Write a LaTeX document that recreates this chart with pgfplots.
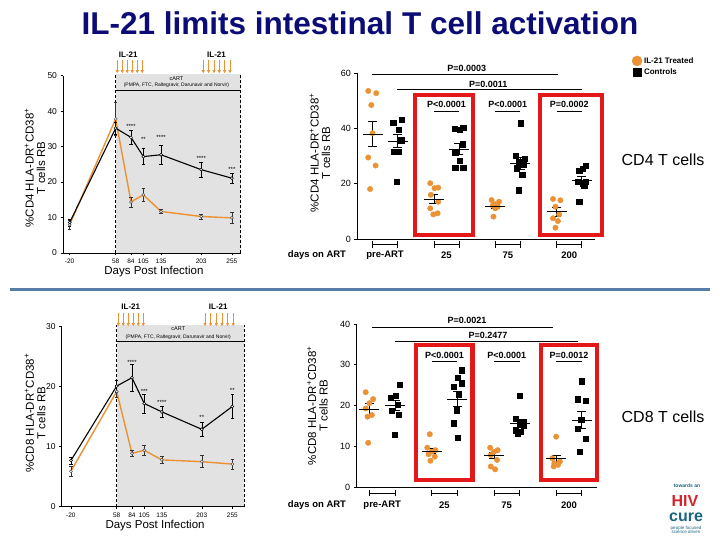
\documentclass[border=0pt]{standalone}
\usepackage{pgfplots}
\pgfplotsset{compat=1.18}
\usepackage{fontspec}
\setmainfont{Liberation Sans}
\usetikzlibrary{arrows.meta}
\newcommand{\fs}[1]{\fontsize{#1}{#1}\selectfont}
\definecolor{ilorange}{RGB}{234,146,52}
\definecolor{boxred}{RGB}{228,24,24}
\definecolor{navy}{RGB}{12,12,118}
\definecolor{steel}{RGB}{86,124,168}
\definecolor{cartgrey}{RGB}{226,226,226}
\definecolor{hivred}{RGB}{214,36,44}
\definecolor{hivteal}{RGB}{26,100,130}
\pgfplotsset{
 lineax/.style={scale only axis, axis lines=left, axis line style={-, line width=0.6pt},
   tick align=outside, major tick length=2.5pt, tick style={black, line width=0.5pt},
   /pgf/number format/assume math mode=true, clip=false, axis on top, ymin=0,
   xtick={-20,58,84,105,135,203,255},
   x tick label style={font=\fs{6.5}},
   y tick label style={font=\fs{8.5}},
   xlabel style={font=\fs{11.5}}, ylabel style={font=\fs{11.5}, align=center}},
 scatax/.style={scale only axis, axis lines=left, axis line style={-, line width=0.9pt},
   tick align=outside, major tick length=3pt, tick style={black, line width=0.8pt},
   xtick=\empty, /pgf/number format/assume math mode=true, clip=false, ymin=0,
   y tick label style={font=\fs{9}}, ylabel style={font=\fs{11.5}, align=center}},
 orangeline/.style={ilorange, line width=1.4pt, mark=*, mark size=1.5pt,
   mark options={fill=white, draw=black!70, line width=0.5pt},
   error bars/.cd, y dir=both, y explicit, error bar style={black!80, line width=0.5pt},
   error mark options={rotate=90, mark size=1.8pt, black!80, line width=0.5pt}},
 blackline/.style={black, line width=1.1pt, mark=*, mark size=1.5pt,
   mark options={fill=white, draw=black, line width=0.5pt},
   error bars/.cd, y dir=both, y explicit, error bar style={black, line width=0.5pt},
   error mark options={rotate=90, mark size=1.8pt, black, line width=0.5pt}},
 odot/.style={only marks, mark=*, mark size=2.7pt, ilorange, forget plot},
 bdot/.style={only marks, mark=square*, mark size=2.6pt, black, forget plot},
 meanbar/.style={only marks, mark=-, mark size=10pt, black, mark options={line width=0.8pt}, forget plot,
   error bars/.cd, y dir=both, y explicit, error bar style={black, line width=0.8pt},
   error mark options={rotate=90, mark size=4.5pt, black, line width=0.8pt}},
}
\begin{document}
\begin{tikzpicture}[x=1pt,y=1pt]
\fill[white] (0,0) rectangle (720,540);
\useasboundingbox (0,0) rectangle (720,540);
\node[font=\bfseries\fs{31.5}, text=navy] at (360,517) {IL-21 limits intestinal T cell activation};
\draw[steel, line width=3pt] (10,250) -- (710,250);
\node[font=\fs{16}] at (663,380) {CD4 T cells};
\node[font=\fs{16}] at (663,123) {CD8 T cells};
\node[font=\bfseries\fs{9.5}] at (317,285) {days on ART};
\node[font=\bfseries\fs{9.5}] at (317,35) {days on ART};
% logo
\node[text=hivteal, font=\bfseries\fs{5}, inner sep=0pt] at (687,54) {towards an};
\node[text=hivred, font=\bfseries\fs{16}, inner sep=0pt] at (685,39) {HIV};
\node[text=hivteal, font=\bfseries\fs{16}, inner sep=0pt] at (686,23) {cure};
\node[text=hivteal, font=\fs{4.5}, align=center, inner sep=0pt] at (686,10) {people focused\\[-0.5pt]science driven};

%================ Panel 1 : CD4 line
\begin{axis}[lineax, at={(63pt,287pt)}, anchor=south west, width=177.7pt, height=177.3pt,
  xmin=-31.3, xmax=270, ymax=50, ytick={0,10,20,30,40,50},
  xlabel={Days Post Infection}, xlabel style={at={(axis description cs:0.512,-0.107)}, anchor=center},
  ylabel={\%CD4 HLA-DR\textsuperscript{+}CD38\textsuperscript{+}\\T cells RB},
  ylabel style={at={(axis description cs:-0.158,0.48)}, anchor=center}]
\fill[cartgrey] (axis cs:58,0) rectangle (axis cs:270,50.6);
\draw[densely dashed, line width=0.5pt] (axis cs:58,0) -- (axis cs:58,50.6);
\draw[densely dashed, line width=0.5pt] (axis cs:270,0) -- (axis cs:270,50.6);
\draw[line width=1pt] (axis cs:58,45.7) -- (axis cs:270,45.7);
\node[font=\fs{5.5}] at (axis cs:161,49.2) {cART};
\node[font=\fs{5}] at (axis cs:161,47.4) {(PMPA, FTC, Raltegravir, Darunavir and Norvir)};
\pgfplotsinvokeforeach{60.7,69.2,77.6,86.1,94.5,103,206.5,215.5,224.6,233.6,242.7,251.7}{
  \draw[ilorange, line width=0.6pt, -{Triangle[length=3pt,width=3pt]}] (axis cs:#1,54.4) -- (axis cs:#1,50.7);}
\node[font=\bfseries\fs{8}] at (axis cs:79.4,55.9) {IL-21};
\node[font=\bfseries\fs{8}] at (axis cs:229,55.9) {IL-21};
\addplot[orangeline] coordinates {(-20,8)+-(0,1.2) (58,37.8)+-(0,4.6) (84,14.4)+-(0,1.4) (105,16.4)+-(0,1.8) (135,11.7)+-(0,0.6) (203,10.3)+-(0,0.7) (255,9.9)+-(0,1.6)};
\addplot[blackline] coordinates {(-20,8.6)+-(0,1) (58,35.2)+-(0,1.8) (84,32.6)+-(0,2) (105,27.2)+-(0,2.3) (135,27.7)+-(0,2.6) (203,23.5)+-(0,2) (255,21.1)+-(0,1.4)};
\node[font=\fs{6}] at (axis cs:84,35.6) {****};
\node[font=\fs{6}] at (axis cs:105,32.1) {**};
\node[font=\fs{6}] at (axis cs:135,32.6) {****};
\node[font=\fs{6}] at (axis cs:203,26.7) {****};
\node[font=\fs{6}] at (axis cs:255,23.7) {***};
\end{axis}

%================ Panel 3 : CD8 line
\begin{axis}[lineax, at={(61.7pt,33.3pt)}, anchor=south west, width=182.3pt, height=180pt,
  xmin=-35.7, xmax=274.9, ymax=30, ytick={0,10,20,30},
  xlabel={Days Post Infection}, xlabel style={at={(axis description cs:0.512,-0.107)}, anchor=center},
  ylabel={\%CD8 HLA-DR\textsuperscript{+}CD38\textsuperscript{+}\\T cells RB},
  ylabel style={at={(axis description cs:-0.146,0.52)}, anchor=center}]
\fill[cartgrey] (axis cs:58,0) rectangle (axis cs:274.9,30.2);
\draw[densely dashed, line width=0.5pt] (axis cs:58,0) -- (axis cs:58,30.2);
\draw[densely dashed, line width=0.5pt] (axis cs:274.9,0) -- (axis cs:274.9,30.2);
\draw[line width=1pt] (axis cs:58,27.6) -- (axis cs:274.9,27.6);
\node[font=\fs{5.5}] at (axis cs:163,29.6) {cART};
\node[font=\fs{5}] at (axis cs:163,28.3) {(PMPA, FTC, Raltegravir, Darunavir and Norvir)};
\pgfplotsinvokeforeach{60.7,69.2,77.7,86.3,94.8,103.3,208.4,218,227.7,237.3,247,256.6}{
  \draw[ilorange, line width=0.6pt, -{Triangle[length=3pt,width=3pt]}] (axis cs:#1,32.2) -- (axis cs:#1,30.1);}
\node[font=\bfseries\fs{8}] at (axis cs:82,33.4) {IL-21};
\node[font=\bfseries\fs{8}] at (axis cs:231,33.4) {IL-21};
\addplot[orangeline] coordinates {(-20,5.9)+-(0,0.8) (58,19.2)+-(0,1) (84,8.9)+-(0,0.5) (105,9.4)+-(0,0.9) (135,7.8)+-(0,0.6) (203,7.5)+-(0,1) (255,7.1)+-(0,0.8)};
\addplot[blackline] coordinates {(-20,7.7)+-(0,0.6) (58,20.1)+-(0,1) (84,21.5)+-(0,2.2) (105,17.2)+-(0,1.6) (135,15.8)+-(0,0.9) (203,12.9)+-(0,1.2) (255,16.7)+-(0,2)};
\node[font=\fs{6}] at (axis cs:84,24) {****};
\node[font=\fs{6}] at (axis cs:105,19.2) {***};
\node[font=\fs{6}] at (axis cs:135,17.4) {****};
\node[font=\fs{6}] at (axis cs:203,14.9) {**};
\node[font=\fs{6}] at (axis cs:255,19.3) {**};
\end{axis}

%================ Panel 2 : CD4 scatter
\begin{axis}[scatax, at={(357.3pt,301pt)}, anchor=south west, width=237.7pt, height=165.7pt,
  xmin=-0.452, xmax=3.42, ymax=60, ytick={0,20,40,60},
  ylabel={\%CD4 HLA-DR\textsuperscript{+}CD38\textsuperscript{+}\\T cells RB},
  ylabel style={at={(axis description cs:-0.157,0.52)}, anchor=center},
  legend style={at={(axis description cs:1.155,1.11)}, anchor=north west, draw=none, fill=none,
    font=\bfseries\fs{8}, row sep=0pt, inner sep=0pt}, legend cell align=left]
\addlegendimage{only marks, mark=*, mark size=5pt, ilorange}
\addlegendentry{IL-21 Treated}
\addlegendimage{only marks, mark=square*, mark size=4.3pt, black}
\addlegendentry{Controls}
\addplot[odot] coordinates {(-0.274,53.6) (-0.144,52.8) (-0.224,48.5) (-0.204,38.3) (-0.274,29.5) (-0.154,26.6) (-0.244,18.1)};
\addplot[bdot] coordinates {(0.134,42.0) (0.274,43.3) (0.224,39.5) (0.264,35.8) (0.144,31.6) (0.224,31.6) (0.184,20.8)};
\addplot[odot] coordinates {(0.736,20.2) (0.866,18.6) (0.806,18.4) (0.746,16.0) (0.866,13.5) (0.736,11.1) (0.856,9.3) (0.786,8.9)};
\addplot[bdot] coordinates {(1.134,40.0) (1.214,39.5) (1.274,40.3) (1.264,34.3) (1.144,31.4) (1.214,28.3) (1.144,25.8) (1.274,25.8)};
\addplot[odot] coordinates {(1.736,14.1) (1.856,13.5) (1.796,12.6) (1.756,12.1) (1.836,11.7) (1.796,11.1) (1.766,8.1)};
\addplot[bdot] coordinates {(2.214,41.9) (2.134,30.2) (2.274,29.0) (2.184,28.0) (2.264,26.8) (2.144,25.6) (2.234,23.2) (2.174,17.7)};
\addplot[odot] coordinates {(2.736,14.5) (2.856,14.0) (2.776,11.7) (2.836,8.9) (2.736,7.5) (2.816,6.5) (2.776,4.1)};
\addplot[bdot] coordinates {(3.164,24.6) (3.274,26.6) (3.214,25.5) (3.134,20.8) (3.214,20.2) (3.274,20.8) (3.244,19.5) (3.164,13.5)};
\addplot[meanbar] coordinates {(-0.204,38)+-(0,4.6) (0.204,35.5)+-(0,2.5) (0.796,14.5)+-(0,1.6) (1.204,32.6)+-(0,2) (1.796,11.9)+-(0,0.8) (2.204,27.4)+-(0,2.2) (2.796,9.9)+-(0,1.7) (3.204,21.2)+-(0,1.6)};
\draw[boxred, line width=4.5pt] (axis cs:0.489,1.45) rectangle (axis cs:1.435,52.1);
\draw[boxred, line width=4.5pt] (axis cs:2.527,1.45) rectangle (axis cs:3.533,52.1);
\draw[line width=0.7pt] (axis cs:-0.217,59.6) -- (axis cs:2.82,59.6);
\node[font=\bfseries\fs{9}] at (axis cs:1.33,61.6) {P=0.0003};
\draw[line width=0.7pt] (axis cs:0.196,54.2) -- (axis cs:3.207,54.2);
\node[font=\bfseries\fs{9}] at (axis cs:1.68,55.9) {P=0.0011};
\node[font=\bfseries\fs{9}] at (axis cs:1,48.6) {P<0.0001};
\node[font=\bfseries\fs{9}] at (axis cs:2,48.6) {P<0.0001};
\node[font=\bfseries\fs{9}] at (axis cs:3,48.6) {P=0.0002};
\pgfplotsinvokeforeach{1,2,3}{
  \draw[line width=0.7pt] (axis cs:#1-0.204,46.1) -- (axis cs:#1+0.204,46.1);}
\pgfplotsinvokeforeach{0,1,2,3}{
  \draw[line width=0.7pt] (axis cs:#1-0.204,-2.06) -- (axis cs:#1+0.204,-2.06);
  \draw[line width=0.7pt] (axis cs:#1-0.204,-0.8) -- (axis cs:#1-0.204,-3.3);
  \draw[line width=0.7pt] (axis cs:#1+0.204,-0.8) -- (axis cs:#1+0.204,-3.3);}
\node[font=\bfseries\fs{9.5}] at (axis cs:0,-5.8) {pre-ART};
\node[font=\bfseries\fs{9.5}] at (axis cs:1,-5.8) {25};
\node[font=\bfseries\fs{9.5}] at (axis cs:2,-5.8) {75};
\node[font=\bfseries\fs{9.5}] at (axis cs:3,-5.8) {200};
\end{axis}

%================ Panel 4 : CD8 scatter
\begin{axis}[scatax, at={(356.7pt,52.7pt)}, anchor=south west, width=240.3pt, height=163.3pt,
  xmin=-0.41, xmax=3.45, ymax=40, ytick={0,10,20,30,40},
  ylabel={\%CD8 HLA-DR\textsuperscript{+}CD38\textsuperscript{+}\\T cells RB},
  ylabel style={at={(axis description cs:-0.163,0.5)}, anchor=center}]
\addplot[odot] coordinates {(-0.266,23.3) (-0.146,21.6) (-0.206,20.6) (-0.266,19.3) (-0.166,17.7) (-0.236,17.3) (-0.226,10.9)};
\addplot[bdot] coordinates {(0.136,22.0) (0.276,25.2) (0.216,22.4) (0.246,20.2) (0.156,18.7) (0.266,17.7) (0.196,12.8)};
\addplot[odot] coordinates {(0.764,13.0) (0.724,9.7) (0.854,9.1) (0.794,8.7) (0.744,8.1) (0.844,7.5) (0.774,6.5)};
\addplot[bdot] coordinates {(1.276,28.7) (1.206,26.9) (1.276,25.5) (1.146,24.7) (1.226,22.8) (1.196,18.9) (1.146,15.7) (1.206,12.2)};
\addplot[odot] coordinates {(1.734,9.7) (1.854,9.1) (1.794,8.7) (1.744,7.9) (1.844,6.7) (1.744,5.1) (1.814,4.4)};
\addplot[bdot] coordinates {(2.206,22.4) (2.146,16.9) (2.266,16.1) (2.206,15.7) (2.276,15.1) (2.146,14.0) (2.226,13.6) (2.176,13.2)};
\addplot[odot] coordinates {(2.794,12.4) (2.734,7.1) (2.854,6.3) (2.764,5.9) (2.824,5.5) (2.754,5.1)};
\addplot[bdot] coordinates {(3.206,26.0) (3.146,21.6) (3.266,21.2) (3.196,16.5) (3.146,14.4) (3.266,12.0) (3.166,8.7)};
\addplot[meanbar] coordinates {(-0.206,19.1)+-(0,1.4) (0.206,20.1)+-(0,1.3) (0.794,8.9)+-(0,0.6) (1.206,21.6)+-(0,1.9) (1.794,7.8)+-(0,0.7) (2.206,15.7)+-(0,1) (2.794,7.05)+-(0,0.8) (3.206,16.5)+-(0,2.1)};
\draw[boxred, line width=4.5pt] (axis cs:0.543,1.8) rectangle (axis cs:1.454,34.9);
\draw[boxred, line width=4.5pt] (axis cs:2.553,1.8) rectangle (axis cs:3.449,34.9);
\draw[line width=0.7pt] (axis cs:-0.17,39.3) -- (axis cs:2.75,39.3);
\node[font=\bfseries\fs{9}] at (axis cs:1.36,41.0) {P=0.0021};
\draw[line width=0.7pt] (axis cs:0.206,35.7) -- (axis cs:3.15,35.7);
\node[font=\bfseries\fs{9}] at (axis cs:1.70,37.2) {P=0.2477};
\node[font=\bfseries\fs{9}] at (axis cs:1,32.4) {P<0.0001};
\node[font=\bfseries\fs{9}] at (axis cs:2,32.4) {P<0.0001};
\node[font=\bfseries\fs{9}] at (axis cs:3,32.4) {P=0.0012};
\pgfplotsinvokeforeach{1,2,3}{
  \draw[line width=0.7pt] (axis cs:#1-0.206,30.9) -- (axis cs:#1+0.206,30.9);}
\pgfplotsinvokeforeach{0,1,2,3}{
  \draw[line width=0.7pt] (axis cs:#1-0.206,-1.4) -- (axis cs:#1+0.206,-1.4);
  \draw[line width=0.7pt] (axis cs:#1-0.206,-0.55) -- (axis cs:#1-0.206,-2.25);
  \draw[line width=0.7pt] (axis cs:#1+0.206,-0.55) -- (axis cs:#1+0.206,-2.25);}
\node[font=\bfseries\fs{9.5}] at (axis cs:0,-4.3) {pre-ART};
\node[font=\bfseries\fs{9.5}] at (axis cs:1,-4.3) {25};
\node[font=\bfseries\fs{9.5}] at (axis cs:2,-4.3) {75};
\node[font=\bfseries\fs{9.5}] at (axis cs:3,-4.3) {200};
\end{axis}
\end{tikzpicture}
\end{document}
